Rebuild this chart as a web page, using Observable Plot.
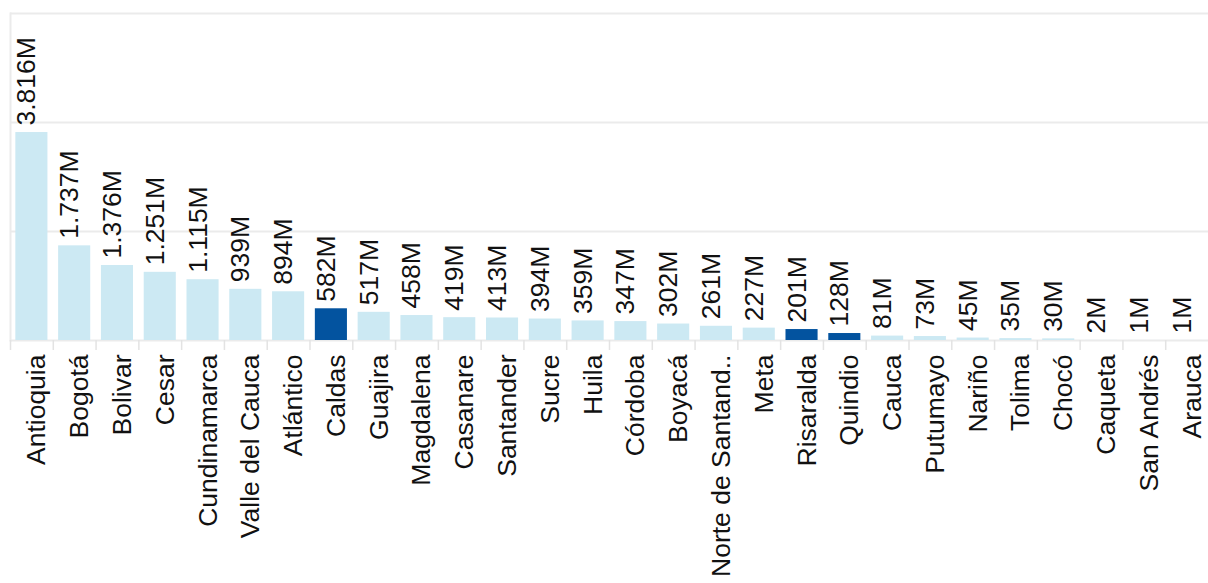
<!DOCTYPE html>
<html>
<head>
<meta charset="utf-8">
<script src="https://cdn.jsdelivr.net/npm/d3@7"></script>
<script src="https://cdn.jsdelivr.net/npm/@observablehq/plot@0.6"></script>
<style>
  html, body { margin: 0; padding: 0; background: #fff; }
  #chart svg { display: block; }
</style>
</head>
<body>
<div id="chart"></div>
<script>
// Departments (sorted as in the reference)
const departments = ["Antioquia","Bogotá","Bolivar","Cesar","Cundinamarca","Valle del Cauca","Atlántico","Caldas","Guajira","Magdalena","Casanare","Santander","Sucre","Huila","Córdoba","Boyacá","Norte de Santand..","Meta","Risaralda","Quindio","Cauca","Putumayo","Nariño","Tolima","Chocó","Caqueta","San Andrés","Arauca"];
// Values in millions
const values = [3816,1737,1376,1251,1115,939,894,582,517,458,419,413,394,359,347,302,261,227,201,128,81,73,45,35,30,2,1,1];
// Highlighted departments (coffee region)
const highlighted = ["Caldas","Risaralda","Quindio"];
// Gridline values
const gridValues = [0,2000,4000,6000];

const data = departments.map((d, i) => ({dept: d, value: values[i], hi: highlighted.includes(d)}));
const es = d3.formatLocale({decimal: ",", thousands: ".", grouping: [3], currency: ["$",""]});
const fmt = v => es.format(",")(v) + "M";

const W = 1208, H = 583, mL = 10, mR = 0, mT = 13, mB = 243;
const step = (W - mL - mR) / departments.length;
const FONT = 26.5;

const chart = Plot.plot({
  width: W, height: H,
  marginLeft: mL, marginRight: mR, marginTop: mT, marginBottom: mB,
  style: {fontFamily: "'Liberation Sans', Arial, sans-serif", background: "#fff", color: "#111"},
  x: {domain: departments, paddingInner: 0.25, paddingOuter: 0.125, round: false, axis: null},
  y: {domain: [0, 6000], axis: null},
  color: {domain: [false, true], range: ["#cce9f3", "#03539f"]},
  marks: [
    Plot.gridY(gridValues, {stroke: "#ebebeb", strokeOpacity: 1, strokeWidth: 2}),
    Plot.frame({anchor: "left", stroke: "#ebebeb", strokeWidth: 2}),
    Plot.axisX({tickSize: 10, text: null, label: null, dx: -step / 2, stroke: "#e3e3e3", strokeWidth: 1.5}),
    Plot.barY(data, {x: "dept", y: "value", fill: "hi"}),
    Plot.text(data, {x: "dept", y: "value", text: d => fmt(d.value), rotate: -90, textAnchor: "start", dy: -7, dx: -5, fontSize: FONT, fill: "#111"}),
    Plot.axisX({tickSize: 0, tickPadding: 14, tickRotate: -90, fontSize: FONT, label: null, dx: 5, fill: "#111"})
  ]
});
document.getElementById("chart").appendChild(chart);
</script>
</body>
</html>
